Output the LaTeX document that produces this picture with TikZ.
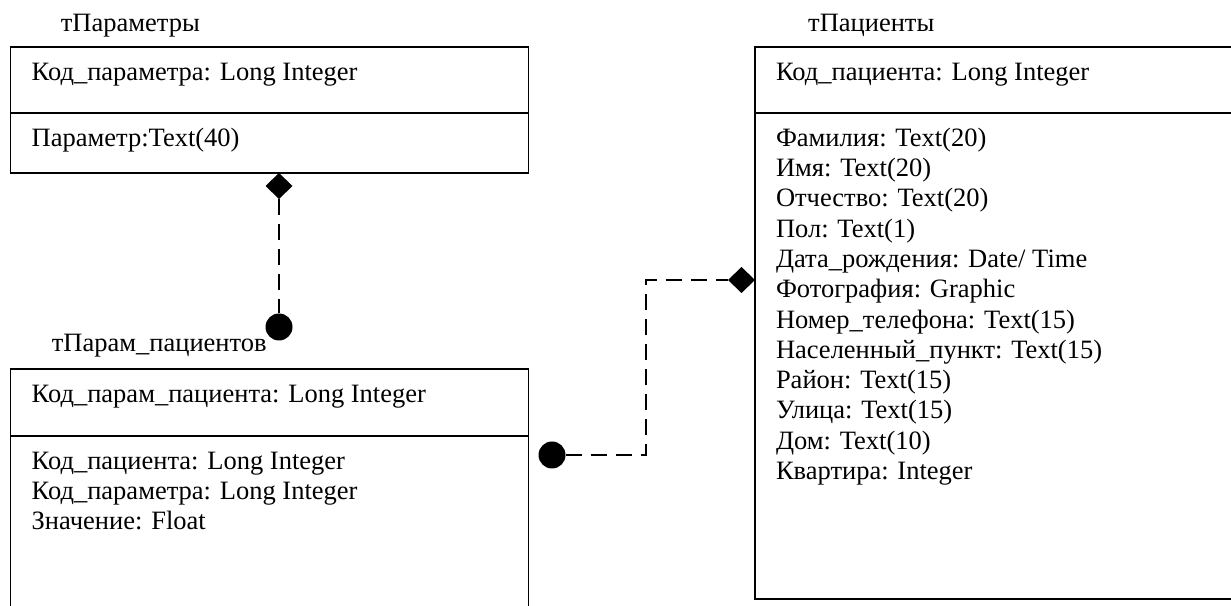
\documentclass[tikz,border=0pt]{standalone}
\usepackage{fontspec}
\setmainfont{Liberation Serif}
\usetikzlibrary{positioning,shapes.geometric}
\tikzset{
    table-box/.style = {draw=black, line width=1.4pt, rectangle, inner xsep=21pt, inner ysep=12pt, outer sep=0pt, anchor=north west, font=\fontsize{26.5}{30.3}\selectfont},
    table-title/.style = {inner sep=0pt, anchor=base west, font=\fontsize{26.5}{30.3}\selectfont},
    link/.style = {draw=black, line width=2.4pt, dash pattern=on 16pt off 9pt},
    end-diamond/.style = {diamond, fill=black, inner sep=0pt, outer sep=0pt, minimum width=27pt, minimum height=26pt},
    end-dot/.style = {circle, fill=black, inner sep=0pt, outer sep=0pt, minimum size=27pt},
}

\begin{document}
\begin{tikzpicture}[x=1pt,y=1pt]
\useasboundingbox (0,0) rectangle (1231,605);
\clip (0,0) rectangle (1231,605);

% tПараметры
\node [table-box] (params-key) at (10.7,558) {\begin{minipage}[t][42pt][t]{476pt}
    \strut Код\_параметра: Long Integer
\end{minipage}};
\node [table-box, below=0pt of params-key] (params-body) {\begin{minipage}[t][36pt][t]{476pt}
    \strut Параметр:Text(40)
\end{minipage}};
\node [table-title] at ([shift={(50pt,15pt)}]params-key.north west) {тПараметры};

% tПарам_пациентов
\node [table-box] (ppat-key) at (10.7,236) {\begin{minipage}[t][43pt][t]{476pt}
    \strut Код\_парам\_пациента: Long Integer
\end{minipage}};
\node [table-box, below=0pt of ppat-key] (ppat-body) {\begin{minipage}[t][170pt][t]{476pt}
    \strut Код\_пациента: Long Integer\\
    Код\_параметра: Long Integer\\
    Значение: Float
\end{minipage}};
\node [table-title] at ([shift={(41pt,17pt)}]ppat-key.north west) {тПарам\_пациентов};

% tПациенты
\node [table-box] (pat-key) at (755,558) {\begin{minipage}[t][42pt][t]{458pt}
    \strut Код\_пациента: Long Integer
\end{minipage}};
\node [table-box, below=0pt of pat-key] (pat-body) {\begin{minipage}[t][462pt][t]{458pt}
    \strut Фамилия: Text(20)\\
    Имя: Text(20)\\
    Отчество: Text(20)\\
    Пол: Text(1)\\
    Дата\_рождения: Date/ Time\\
    Фотография: Graphic\\
    Номер\_телефона: Text(15)\\
    Населенный\_пункт: Text(15)\\
    Район: Text(15)\\
    Улица: Text(15)\\
    Дом: Text(10)\\
    Квартира: Integer
\end{minipage}};
\node [table-title] at ([shift={(53pt,15pt)}]pat-key.north west) {тПациенты};

% связи
\node [end-diamond, anchor=north] (params-diamond) at ([xshift=9.3pt]params-body.south) {};
\node [end-dot] (ppat-dot-top) at (279,278) {};
\node [end-dot] (ppat-dot-side) at (552,150) {};
\node [end-diamond, anchor=east] (pat-diamond) at (pat-body.west |- 0,325) {};

\draw [link] (params-diamond) -- (ppat-dot-top);
\draw [link] (ppat-dot-side.east) -| ([xshift=-82pt]pat-diamond.west) -- (pat-diamond.west);
\end{tikzpicture}
\end{document}
